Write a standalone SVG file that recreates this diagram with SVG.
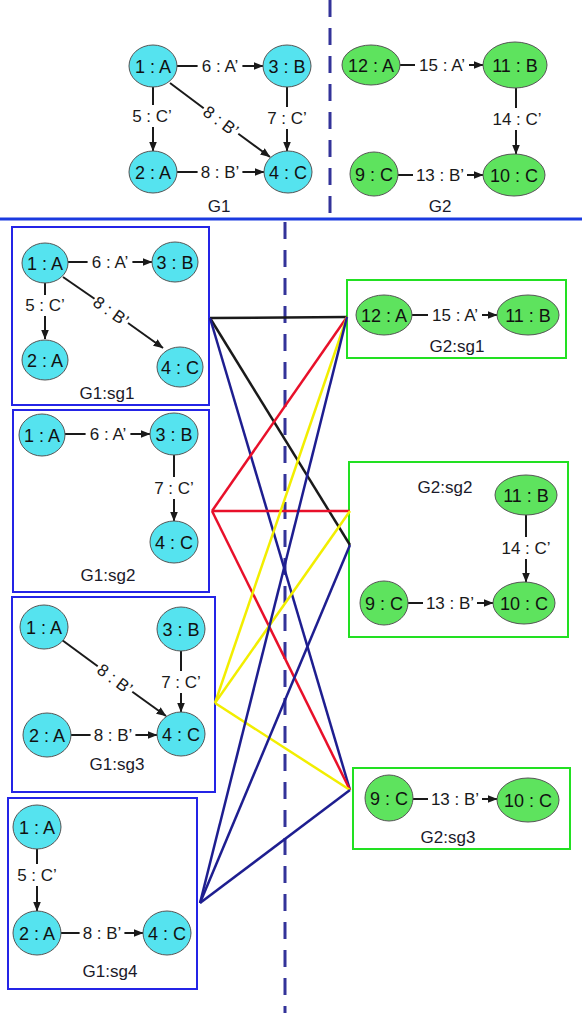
<svg xmlns="http://www.w3.org/2000/svg" width="582" height="1013" viewBox="0 0 582 1013">
<defs>
<marker id="arr" markerWidth="10" markerHeight="8" refX="9.5" refY="4" orient="auto" markerUnits="userSpaceOnUse"><path d="M0,0 L10,4 L0,8 z" fill="#1a1a1a"/></marker>
<style>
.c{fill:#55e3ef;stroke:#555;stroke-width:1}
.g{fill:#5ee35e;stroke:#555;stroke-width:1}
.nl{font-family:"Liberation Sans",Arial,sans-serif;font-size:18px;fill:#111;text-anchor:middle}
.el{font-family:"Liberation Sans",Arial,sans-serif;font-size:17px;fill:#1a1a1a;text-anchor:middle}
.gl{font-family:"Liberation Sans",Arial,sans-serif;font-size:17px;fill:#1a1a2a;text-anchor:middle}
.e{stroke:#1a1a1a;stroke-width:2;fill:none}
.ea{stroke:#1a1a1a;stroke-width:2;fill:none;marker-end:url(#arr)}
.b1{fill:#fff;stroke:#2424e6;stroke-width:2}
.b2{fill:#fff;stroke:#22e022;stroke-width:2}
.dash{stroke:#333399;stroke-width:3;stroke-dasharray:17 11;fill:none}
.k{stroke:#1a1a1a;stroke-width:2.5;fill:none}
.r{stroke:#e8102a;stroke-width:2.5;fill:none}
.y{stroke:#f2ee00;stroke-width:2.5;fill:none}
.n{stroke:#1e1e90;stroke-width:2.5;fill:none}
</style>
</defs>
<rect width="582" height="1013" fill="#fff"/>
<g id="separators">
<line class="dash" x1="330" y1="0" x2="330" y2="218"/>
<line x1="0" y1="219" x2="582" y2="219" stroke="#1a3ae0" stroke-width="3"/>
</g>
<!-- Top G1 -->
<g id="G1">
<g id="G1-edges">
<line class="e" x1="177" y1="66" x2="197.6" y2="66"/><line class="ea" x1="242.4" y1="66" x2="263" y2="66"/><text class="el" x="220" y="72">6 : A’</text>
<line class="e" x1="177" y1="172" x2="197.6" y2="172"/><line class="ea" x1="242.4" y1="172" x2="264" y2="172"/><text class="el" x="220" y="178">8 : B’</text>
<line class="e" x1="153" y1="87" x2="153" y2="105"/><line class="ea" x1="153" y1="127" x2="153" y2="151"/><text class="el" x="152" y="122">5 : C’</text>
<line class="e" x1="287" y1="87" x2="287" y2="107"/><line class="ea" x1="287" y1="129" x2="287" y2="151"/><text class="el" x="287" y="124">7 : C’</text>
<line class="e" x1="170" y1="83" x2="203.7" y2="108.2"/><line class="ea" x1="238.3" y1="133.8" x2="270" y2="157"/><text class="el" transform="translate(221,121) rotate(36.5)" y="6">8 : B’</text>
</g>
<g id="G1-n1"><ellipse class="c" cx="153" cy="66" rx="24" ry="21"/><text class="nl" x="153" y="72.5">1 : A</text></g>
<g id="G1-n3"><ellipse class="c" cx="287" cy="66" rx="24" ry="21"/><text class="nl" x="287" y="72.5">3 : B</text></g>
<g id="G1-n2"><ellipse class="c" cx="153" cy="172" rx="24" ry="21"/><text class="nl" x="153" y="178.5">2 : A</text></g>
<g id="G1-n4"><ellipse class="c" cx="288" cy="172" rx="24" ry="21"/><text class="nl" x="288" y="178.5">4 : C</text></g>
<text class="gl" x="219" y="212">G1</text>
</g>
<!-- Top G2 -->
<g id="G2">
<g id="G2-edges">
<line class="e" x1="400" y1="65" x2="415" y2="65"/><line class="ea" x1="469" y1="65" x2="483" y2="65"/><text class="el" x="442" y="71">15 : A’</text>
<line class="e" x1="398" y1="175" x2="413" y2="175"/><line class="ea" x1="467" y1="175" x2="483" y2="175"/><text class="el" x="440" y="181">13 : B’</text>
<line class="e" x1="516" y1="88" x2="516" y2="108"/><line class="ea" x1="516" y1="130" x2="516" y2="154"/><text class="el" x="517" y="125">14 : C’</text>
</g>
<g id="G2-n12"><ellipse class="g" cx="371" cy="65" rx="29" ry="20"/><text class="nl" x="371" y="71.5">12 : A</text></g>
<g id="G2-n11"><ellipse class="g" cx="515" cy="65" rx="32" ry="23"/><text class="nl" x="515" y="71.5">11 : B</text></g>
<g id="G2-n9"><ellipse class="g" cx="374" cy="174" rx="24" ry="22"/><text class="nl" x="374" y="180.5">9 : C</text></g>
<g id="G2-n10"><ellipse class="g" cx="514" cy="175" rx="31" ry="21"/><text class="nl" x="514" y="181.5">10 : C</text></g>
<text class="gl" x="440" y="212">G2</text>
</g>
<line class="dash" x1="285" y1="222" x2="285" y2="1013"/>
<!-- G1 subgraph boxes -->
<g id="G1-sg1">
<rect class="b1" x="12" y="227" width="197" height="178"/>
<line class="e" x1="68" y1="262" x2="87.6" y2="262"/><line class="ea" x1="132.4" y1="262" x2="152" y2="262"/><text class="el" x="110" y="268">6 : A’</text>
<line class="e" x1="45" y1="283" x2="45" y2="295"/><line class="ea" x1="45" y1="316" x2="45" y2="339"/><text class="el" x="45" y="311">5 : C’</text>
<line class="e" x1="63" y1="277" x2="94.5" y2="298.7"/><line class="ea" x1="128" y1="323" x2="163" y2="348"/><text class="el" transform="translate(111,311) rotate(35.5)" y="6">8 : B’</text>
<ellipse class="c" cx="45" cy="263" rx="23" ry="20"/><text class="nl" x="45" y="269.5">1 : A</text>
<ellipse class="c" cx="175" cy="262" rx="23" ry="20"/><text class="nl" x="175" y="268.5">3 : B</text>
<ellipse class="c" cx="45" cy="360" rx="23" ry="20"/><text class="nl" x="45" y="366.5">2 : A</text>
<ellipse class="c" cx="180" cy="367" rx="23" ry="20"/><text class="nl" x="180" y="373.5">4 : C</text>
<text class="gl" x="107" y="399">G1:sg1</text>
</g>
<g id="G1-sg2">
<rect class="b1" x="13" y="410" width="196" height="182"/>
<line class="e" x1="65" y1="434" x2="85.6" y2="434"/><line class="ea" x1="130.4" y1="434" x2="150" y2="434"/><text class="el" x="108" y="440">6 : A’</text>
<line class="e" x1="174" y1="455" x2="174" y2="477"/><line class="ea" x1="174" y1="499" x2="174" y2="521"/><text class="el" x="174" y="494">7 : C’</text>
<ellipse class="c" cx="42" cy="435" rx="23" ry="21"/><text class="nl" x="42" y="441.5">1 : A</text>
<ellipse class="c" cx="174" cy="434" rx="24" ry="21"/><text class="nl" x="174" y="440.5">3 : B</text>
<ellipse class="c" cx="174" cy="542" rx="24" ry="21"/><text class="nl" x="174" y="548.5">4 : C</text>
<text class="gl" x="108" y="581">G1:sg2</text>
</g>
<g id="G1-sg3">
<rect class="b1" x="12" y="597" width="203" height="195"/>
<line class="e" x1="62" y1="640" x2="97.7" y2="666.3"/><line class="ea" x1="132.3" y1="691.7" x2="166" y2="716"/><text class="el" transform="translate(115,679) rotate(36.3)" y="6">8 : B’</text>
<line class="e" x1="181" y1="651" x2="181" y2="671"/><line class="ea" x1="181" y1="693" x2="181" y2="712"/><text class="el" x="181" y="688">7 : C’</text>
<line class="e" x1="71" y1="735" x2="90.6" y2="735"/><line class="ea" x1="135.4" y1="735" x2="157" y2="735"/><text class="el" x="113" y="741">8 : B’</text>
<ellipse class="c" cx="44" cy="627" rx="24" ry="22"/><text class="nl" x="44" y="633.5">1 : A</text>
<ellipse class="c" cx="181" cy="629" rx="24" ry="22"/><text class="nl" x="181" y="635.5">3 : B</text>
<ellipse class="c" cx="47" cy="735" rx="24" ry="22"/><text class="nl" x="47" y="741.5">2 : A</text>
<ellipse class="c" cx="181" cy="734" rx="24" ry="22"/><text class="nl" x="181" y="740.5">4 : C</text>
<text class="gl" x="117" y="770">G1:sg3</text>
</g>
<g id="G1-sg4">
<rect class="b1" x="8" y="798" width="189" height="191"/>
<line class="e" x1="37" y1="849" x2="37" y2="864"/><line class="ea" x1="37" y1="886" x2="37" y2="911"/><text class="el" x="37" y="881">5 : C’</text>
<line class="e" x1="61" y1="933" x2="79.6" y2="933"/><line class="ea" x1="124.4" y1="933" x2="143" y2="933"/><text class="el" x="102" y="939">8 : B’</text>
<ellipse class="c" cx="37" cy="827" rx="24" ry="22"/><text class="nl" x="37" y="833.5">1 : A</text>
<ellipse class="c" cx="37" cy="933" rx="24" ry="22"/><text class="nl" x="37" y="939.5">2 : A</text>
<ellipse class="c" cx="167" cy="933" rx="24" ry="22"/><text class="nl" x="167" y="939.5">4 : C</text>
<text class="gl" x="110" y="977">G1:sg4</text>
</g>
<!-- G2 subgraph boxes -->
<g id="G2-sg1">
<rect class="b2" x="347" y="280" width="219" height="78"/>
<line class="e" x1="412" y1="315" x2="428" y2="315"/><line class="ea" x1="482" y1="315" x2="497" y2="315"/><text class="el" x="455" y="321">15 : A’</text>
<ellipse class="g" cx="384" cy="315" rx="28" ry="20"/><text class="nl" x="384" y="321.5">12 : A</text>
<ellipse class="g" cx="528" cy="315" rx="31" ry="20"/><text class="nl" x="528" y="321.5">11 : B</text>
<text class="gl" x="457" y="352">G2:sg1</text>
</g>
<g id="G2-sg2">
<rect class="b2" x="349" y="462" width="219" height="175"/>
<line class="e" x1="526" y1="515" x2="526" y2="537"/><line class="ea" x1="526" y1="559" x2="526" y2="582"/><text class="el" x="526" y="554">14 : C’</text>
<line class="e" x1="408" y1="603" x2="423" y2="603"/><line class="ea" x1="477" y1="603" x2="493" y2="603"/><text class="el" x="450" y="609">13 : B’</text>
<ellipse class="g" cx="526" cy="495" rx="31" ry="20"/><text class="nl" x="526" y="501.5">11 : B</text>
<ellipse class="g" cx="384" cy="603" rx="24" ry="22"/><text class="nl" x="384" y="609.5">9 : C</text>
<ellipse class="g" cx="524" cy="603" rx="31" ry="21"/><text class="nl" x="524" y="609.5">10 : C</text>
<text class="gl" x="445" y="493">G2:sg2</text>
</g>
<g id="G2-sg3">
<rect class="b2" x="353" y="768" width="217" height="81"/>
<line class="e" x1="413" y1="799" x2="428" y2="799"/><line class="ea" x1="482" y1="799" x2="497" y2="799"/><text class="el" x="455" y="805">13 : B’</text>
<ellipse class="g" cx="389" cy="798" rx="24" ry="23"/><text class="nl" x="389" y="804.5">9 : C</text>
<ellipse class="g" cx="528" cy="800" rx="31" ry="22"/><text class="nl" x="528" y="806.5">10 : C</text>
<text class="gl" x="448" y="843">G2:sg3</text>
</g>
<!-- connectors -->
<g id="connectors">
<line class="k" x1="210" y1="318" x2="347" y2="317"/>
<line class="k" x1="210" y1="318" x2="350" y2="545"/>
<line class="n" x1="210" y1="318" x2="350" y2="790" stroke="#1c1c50"/>
<line class="r" x1="212" y1="511" x2="347" y2="317"/>
<line class="r" x1="212" y1="511" x2="350" y2="511"/>
<line class="r" x1="212" y1="511" x2="350" y2="790"/>
<line class="y" x1="215" y1="703" x2="347" y2="317"/>
<line class="y" x1="215" y1="703" x2="350" y2="511"/>
<line class="y" x1="215" y1="703" x2="350" y2="790"/>
<line class="n" x1="200" y1="903" x2="347" y2="317"/>
<line class="n" x1="200" y1="903" x2="350" y2="545"/>
<line class="n" x1="200" y1="903" x2="350" y2="790"/>
</g>
</svg>
